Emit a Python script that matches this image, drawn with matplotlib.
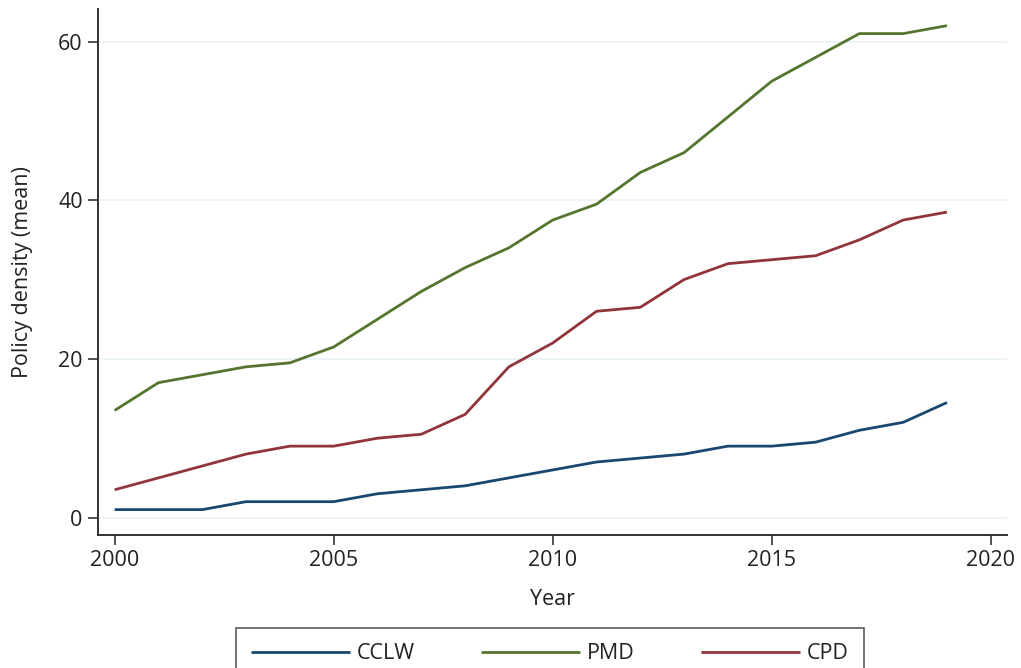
import matplotlib
matplotlib.use("Agg")
import matplotlib.pyplot as plt

years = list(range(2000, 2020))
cclw = [1, 1, 1, 2, 2, 2, 3, 3.5, 4, 5, 6, 7, 7.5, 8, 9, 9, 9.5, 11, 12, 14.5]
pmd = [13.5, 17, 18, 19, 19.5, 21.5, 25, 28.5, 31.5, 34, 37.5, 39.5, 43.5, 46, 50.5, 55, 58, 61, 61, 62]
cpd = [3.5, 5, 6.5, 8, 9, 9, 10, 10.5, 13, 19, 22, 26, 26.5, 30, 32, 32.5, 33, 35, 37.5, 38.5]
series_names = ["CCLW", "PMD", "CPD"]
xticks = [2000, 2005, 2010, 2015, 2020]
yticks = [0, 20, 40, 60]

plt.rcParams['font.family'] = ['Open Sans', 'DejaVu Sans']

W, H = 1021, 668
fig = plt.figure(figsize=(W / 100, H / 100), dpi=100)
ax = fig.add_axes([98 / W, 1 - 535 / H, (1007 - 98) / W, (535 - 9) / H])

colors = ["#1a476f", "#55752f", "#90353b"]
for vals, name, c in zip([cclw, pmd, cpd], series_names, colors):
    ax.plot(years, vals, color=c, lw=2.0, label=name, solid_capstyle='butt')

ax.set_xlim(1999.62, 2020.37)
ax.set_ylim(-2.2, 64.1)
ax.set_xticks(xticks)
ax.set_yticks(yticks)
ax.tick_params(labelsize=15.5, length=7, width=1.2, color="#333333", labelcolor="#222222", pad=4)
ax.grid(axis='y', color="#eaf2f3", lw=1.2)
ax.set_axisbelow(True)
for s in ["top", "right"]:
    ax.spines[s].set_visible(False)
for s in ["left", "bottom"]:
    ax.spines[s].set_linewidth(1.4)
    ax.spines[s].set_color("#333333")

ax.set_xlabel("Year", fontsize=15.5, color="#222222", labelpad=13)
ax.set_ylabel("Policy density (mean)", fontsize=15.5, color="#222222", labelpad=18)

leg = fig.legend(loc="upper left", bbox_to_anchor=(236 / W, 1 - 628 / H), ncol=3,
                 fontsize=15.5, frameon=True, fancybox=False, handlelength=4.6,
                 handletextpad=0.3, columnspacing=3.1, borderpad=0.7, borderaxespad=0)
leg.get_frame().set_edgecolor("#333333")
leg.get_frame().set_linewidth(1.2)
for t in leg.get_texts():
    t.set_color("#222222")

fig.savefig("out.png", dpi=100)
